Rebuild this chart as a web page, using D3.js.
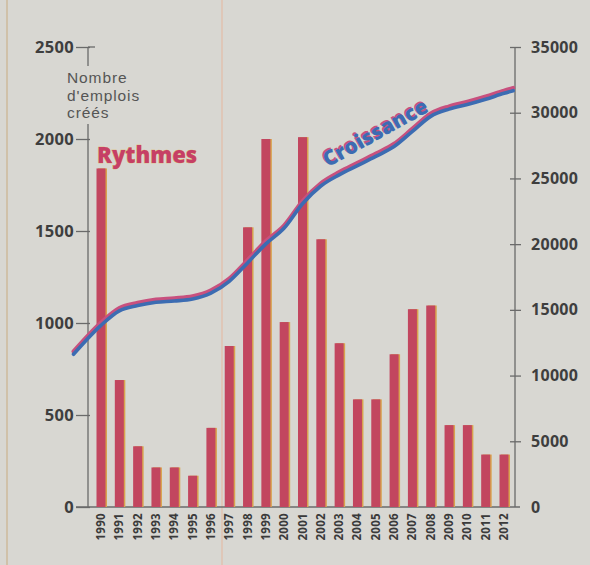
<!DOCTYPE html>
<html>
<head>
<meta charset="utf-8">
<script src="https://cdn.jsdelivr.net/npm/d3@7"></script>
<style>
  body { margin: 0; background: #d8d7d2; }
  svg { display: block; }
</style>
</head>
<body>
<svg width="590" height="565"></svg>
<script>
// jobs created per year (left axis)
const years = [1990,1991,1992,1993,1994,1995,1996,1997,1998,1999,2000,2001,2002,2003,2004,2005,2006,2007,2008,2009,2010,2011,2012];
const rythmes = [1840,690,330,215,215,170,430,875,1520,2000,1005,2010,1455,890,585,585,830,1075,1095,445,445,285,285];

// cumulative growth (right axis)
const growthYears = [1988.5,1990,1991,1992,1993,1994,1995,1996,1997,1998,1999,2000,2001,2002,2003,2004,2005,2006,2007,2008,2009,2010,2011,2012,2012.5];
const croissance = [11700,13900,15000,15400,15650,15750,15900,16350,17250,18650,20100,21300,23150,24500,25350,26050,26750,27500,28650,29800,30350,30700,31100,31550,31750];

const leftTicks = [0,500,1000,1500,2000,2500];
const rightTicks = [0,5000,10000,15000,20000,25000,30000,35000];
const titleLines = ['Nombre', "d'emplois", 'créés'];

const svg = d3.select('svg');
const font = '"Open Sans", "Noto Sans", sans-serif';

// scan artefacts: faint vertical lines
svg.append('line').attr('x1',7).attr('x2',7).attr('y1',0).attr('y2',565)
  .attr('stroke','#c9a878').attr('stroke-width',1.5).attr('opacity',0.6);
svg.append('line').attr('x1',222).attr('x2',222).attr('y1',0).attr('y2',565)
  .attr('stroke','#e8b49a').attr('stroke-width',1.5).attr('opacity',0.6);

//scales
const x = d3.scaleLinear().domain([1990, 2012]).range([101, 504]);
const y = d3.scaleLinear().domain([0, 2500]).range([507, 47]);
const y2 = d3.scaleLinear().domain([0, 35000]).range([507, 47]);

const axisColor = '#6a6a6a';
const labelColor = '#3e3e3e';

//left axis
const left = svg.append('g').attr('transform','translate(88,0)')
  .call(d3.axisLeft(y).tickValues(leftTicks).tickSize(7).tickPadding(3).tickFormat(d3.format('d')));
left.select('.domain').remove();
left.selectAll('line').attr('stroke', axisColor).attr('stroke-width',1.3).attr('x2',-12).attr('x1',2);
left.selectAll('text').attr('font-family',font).attr('font-weight',700).attr('font-size',16.5)
  .attr('letter-spacing',0.3).attr('fill',labelColor).attr('x',-14);
svg.append('line').attr('x1',88).attr('x2',88).attr('y1',y(2500)).attr('y2',507)
  .attr('stroke',axisColor).attr('stroke-width',1.3);
svg.append('line').attr('x1',88).attr('x2',95).attr('y1',y(2500)).attr('y2',y(2500))
  .attr('stroke',axisColor).attr('stroke-width',1.3);

//right axis
const right = svg.append('g').attr('transform','translate(515,0)')
  .call(d3.axisRight(y2).tickValues(rightTicks).tickSize(6).tickPadding(10).tickFormat(d3.format('d')));
right.select('.domain').attr('stroke',axisColor).attr('stroke-width',1.3).attr('d','M0,47V507');
right.selectAll('line').attr('stroke',axisColor).attr('stroke-width',1.3).attr('x1',-5);
right.selectAll('text').attr('font-family',font).attr('font-weight',700).attr('font-size',16)
  .attr('letter-spacing',0.3).attr('fill',labelColor);
right.selectAll('.tick').filter(d => d === 0).select('line').remove();

//baseline
svg.append('line').attr('x1',76).attr('x2',520).attr('y1',507).attr('y2',507)
  .attr('stroke',axisColor).attr('stroke-width',1.3);

//axis title with background cut-out
svg.append('rect').attr('x',66).attr('y',66).attr('width',84).attr('height',58).attr('fill','#d8d7d2');
svg.append('g').selectAll('text').data(titleLines).enter().append('text')
  .attr('x',67).attr('y',(d,i) => 83 + i*17.5)
  .attr('font-family','"Liberation Sans", Arial, sans-serif').attr('font-size',15.5)
  .attr('letter-spacing',0.9).attr('fill','#555').text(d => d);

//bars
const bw = 9;
const bars = svg.append('g');
bars.selectAll('rect.edge').data(rythmes).enter().append('rect').attr('class','edge')
  .attr('x',(d,i) => x(years[i]) - bw/2 + 1.5).attr('y',d => y(d))
  .attr('width',bw).attr('height',d => 507 - y(d)).attr('fill','#d8a24e');
bars.selectAll('rect.bar').data(rythmes).enter().append('rect').attr('class','bar')
  .attr('x',(d,i) => x(years[i]) - bw/2).attr('y',d => y(d))
  .attr('width',bw).attr('height',d => 507 - y(d)).attr('fill','#c2465f');

//year labels
svg.append('g').selectAll('text').data(years).enter().append('text')
  .attr('transform',d => 'translate(' + (x(d) + 4) + ',513) rotate(-90)')
  .attr('text-anchor','end').attr('font-family',font).attr('font-weight',700)
  .attr('font-size',11.5).attr('letter-spacing',0.3).attr('fill','#3a3a3a').text(d => d);

//growth line
const line = d3.line().x((d,i) => x(growthYears[i])).y(d => y2(d)).curve(d3.curveMonotoneX);
svg.append('path').datum(croissance).attr('d',line).attr('fill','none')
  .attr('stroke','#c8507e').attr('stroke-width',4).attr('stroke-linecap','round')
  .attr('transform','translate(0,-1.8)');
svg.append('path').datum(croissance).attr('d',line).attr('fill','none')
  .attr('stroke','#3c6cb2').attr('stroke-width',3.6).attr('stroke-linecap','round')
  .attr('transform','translate(0,1)');

//labels
svg.append('text').attr('x',97).attr('y',163).attr('font-family',font).attr('font-weight',800)
  .attr('font-size',22).attr('fill','#c63f66').attr('stroke','#e0b84a').attr('stroke-width',0.6)
  .attr('paint-order','stroke').text('Rythmes');

const cr = svg.append('g').attr('transform','translate(378,139) rotate(-29)');
cr.append('text').attr('text-anchor','middle').attr('y',-1.2).attr('font-family',font).attr('font-weight',800)
  .attr('font-size',21).attr('fill','#c8507e').text('Croissance');
cr.append('text').attr('text-anchor','middle').attr('x',0.6).attr('y',0.6).attr('font-family',font).attr('font-weight',800)
  .attr('font-size',21).attr('fill','#3c6cb2').text('Croissance');
</script>
</body>
</html>
